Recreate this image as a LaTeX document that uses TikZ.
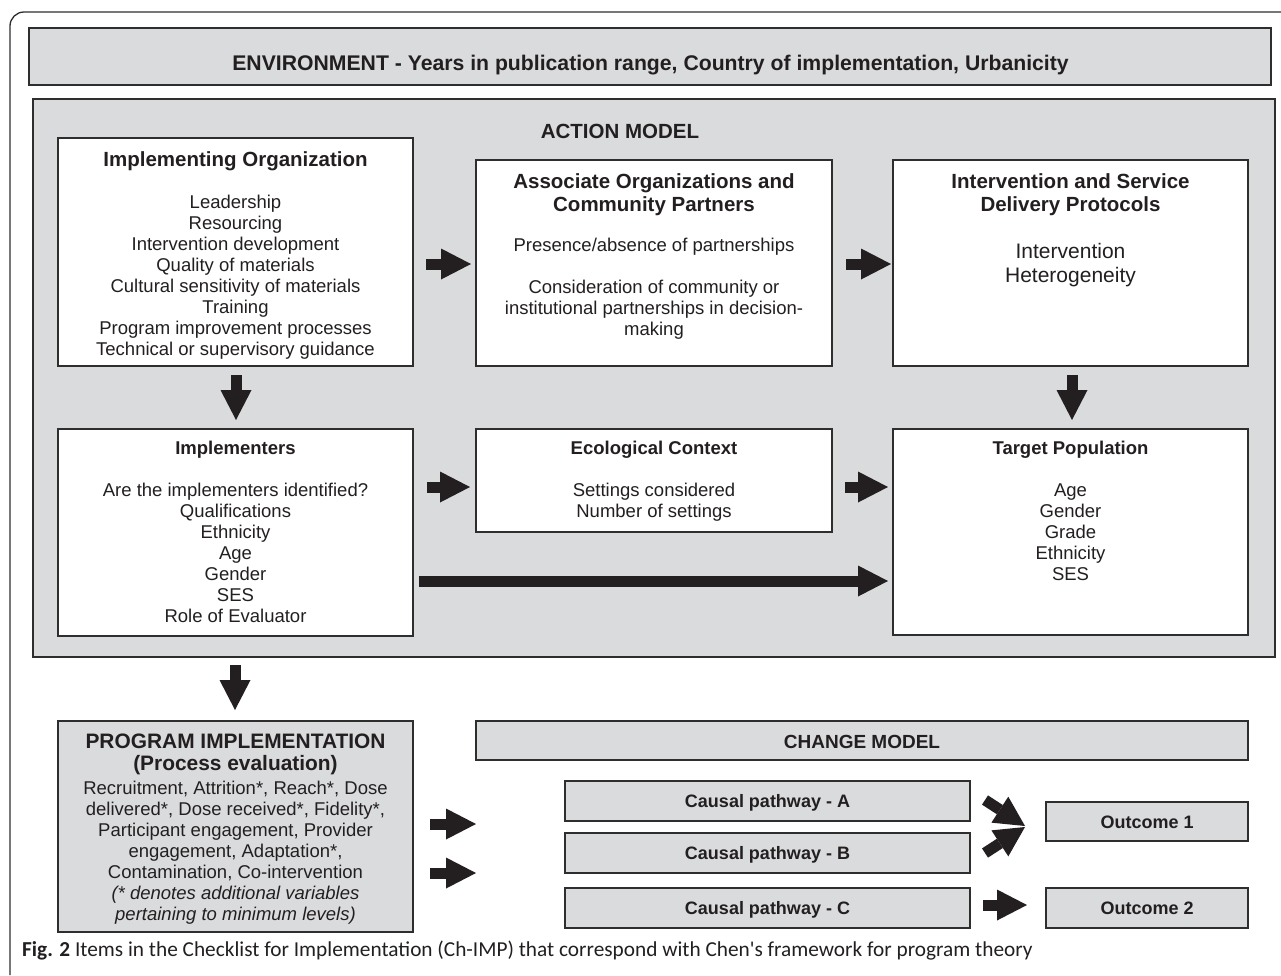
\documentclass[tikz,border=0pt]{standalone}
\usepackage{fontspec}
\setmainfont{Liberation Sans}
\newfontfamily\capfont{Carlito}
\usetikzlibrary{arrows.meta}
\definecolor{boxgray}{HTML}{DADBDD}
\definecolor{ink}{HTML}{231F20}
\definecolor{edge}{HTML}{2E2E2E}
\newcommand{\ml}[1]{\begin{tabular}[t]{@{}c@{}}#1\end{tabular}}
\begin{document}
\begin{tikzpicture}[x=1pt,y=-1pt,
  box/.style={draw=edge, line width=1.8pt, anchor=north west, outer sep=0pt, inner sep=0pt},
  graybox/.style={box, fill=boxgray},
  whitebox/.style={box, fill=white},
  txt/.style={anchor=base, align=center, inner sep=0pt, text=ink},
  body/.style={txt, font=\fontsize{18.5}{21}\selectfont},
  ttl/.style={txt, font=\fontsize{20.5}{23}\selectfont\bfseries},
  blk/.style={draw=ink, line width=11pt, -{Triangle[length=30pt,width=31pt,line width=0pt]}},
]
\useasboundingbox (0,0) rectangle (1281,975);
% outer frame
\draw[edge, line width=1.3pt] (10,975) -- (10,26) arc[start angle=180, end angle=270, radius=14] -- (1281,12);

% environment
\node[graybox, minimum width=1242, minimum height=57] (env) at (29,28) {};
\node[txt, font=\fontsize{21.2}{24}\selectfont\bfseries] (envt) at (650.5,70) {ENVIRONMENT - Years in publication range, Country of implementation, Urbanicity};

% action model
\node[graybox, minimum width=1242, minimum height=558] (am) at (33,99) {};
\node[ttl] (amt) at (620,138) {ACTION MODEL};

% top row
\node[whitebox, minimum width=355, minimum height=228] (io) at (58,138) {};
\node[ttl] at (235.5,166) {Implementing Organization};
\node[body] at (235.5,208.5) {\ml{Leadership\\Resourcing\\Intervention development\\Quality of materials\\Cultural sensitivity of materials\\Training\\Program improvement processes\\Technical or supervisory guidance}};

\node[whitebox, minimum width=356, minimum height=206] (ao) at (476,160) {};
\node[ttl] at (654,188) {\ml{Associate Organizations and\\Community Partners}};
\node[body] at (654,251.5) {\ml{Presence/absence of partnerships\\[21pt]Consideration of community or\\institutional partnerships in decision-\\making}};

\node[whitebox, minimum width=355, minimum height=206] (isd) at (893,160) {};
\node[ttl] at (1070.5,188) {\ml{Intervention and Service\\Delivery Protocols}};
\node[txt, font=\fontsize{21}{24}\selectfont] at (1070.5,258) {\ml{Intervention\\Heterogeneity}};

% second row
\node[whitebox, minimum width=355, minimum height=207] (imp) at (58,429) {};
\node[txt, font=\fontsize{18.5}{21}\selectfont\bfseries] at (235.5,454) {Implementers};
\node[body] at (235.5,496.5) {\ml{Are the implementers identified?\\Qualifications\\Ethnicity\\Age\\Gender\\SES\\Role of Evaluator}};

\node[whitebox, minimum width=356, minimum height=103] (eco) at (476,429) {};
\node[txt, font=\fontsize{18.5}{21}\selectfont\bfseries] at (654,454) {Ecological Context};
\node[body] at (654,496.5) {\ml{Settings considered\\Number of settings}};

\node[whitebox, minimum width=355, minimum height=206] (tp) at (893,429) {};
\node[txt, font=\fontsize{18.5}{21}\selectfont\bfseries] at (1070.5,454) {Target Population};
\node[body] at (1070.5,496.5) {\ml{Age\\Gender\\Grade\\Ethnicity\\SES}};

% program implementation
\node[graybox, minimum width=355, minimum height=211] (prog) at (58,721) {};
\node[txt, font=\fontsize{20.9}{22}\selectfont\bfseries] at (235.5,748) {\ml{PROGRAM IMPLEMENTATION\\(Process evaluation)}};
\node[body] at (235.5,794) {\ml{Recruitment, Attrition*, Reach*, Dose\\delivered*, Dose received*, Fidelity*,\\Participant engagement, Provider\\engagement, Adaptation*,\\Contamination, Co-intervention\\\itshape (* denotes additional variables\\\itshape pertaining to minimum levels)}};

% change model
\node[graybox, minimum width=772, minimum height=39] (chg) at (476,721) {};
\node[txt, font=\fontsize{19}{21}\selectfont\bfseries] at (862,748) {CHANGE MODEL};

\node[graybox, minimum width=405, minimum height=40] (ca) at (565,781) {};
\node[txt, font=\fontsize{18}{20}\selectfont\bfseries] at (767.5,807) {Causal pathway - A};
\node[graybox, minimum width=405, minimum height=40] (cb) at (565,833) {};
\node[txt, font=\fontsize{18}{20}\selectfont\bfseries] at (767.5,859) {Causal pathway - B};
\node[graybox, minimum width=405, minimum height=40] (cc) at (565,888) {};
\node[txt, font=\fontsize{18}{20}\selectfont\bfseries] at (767.5,914) {Causal pathway - C};

\node[graybox, minimum width=202, minimum height=39] (o1) at (1046,802) {};
\node[txt, font=\fontsize{18}{20}\selectfont\bfseries] at (1147,828) {Outcome 1};
\node[graybox, minimum width=202, minimum height=40] (o2) at (1046,888) {};
\node[txt, font=\fontsize{18}{20}\selectfont\bfseries] at (1147,914.5) {Outcome 2};

% arrows
\coordinate (a1s) at (426,264); \coordinate (a1e) at (471,264);
\coordinate (a2s) at (846,264); \coordinate (a2e) at (891,264);
\coordinate (d1s) at (236,375); \coordinate (d1e) at (236,420);
\coordinate (d2s) at (1072,375); \coordinate (d2e) at (1072,420);
\coordinate (b1s) at (427,487); \coordinate (b1e) at (470,487);
\coordinate (b2s) at (845,487); \coordinate (b2e) at (888,487);
\coordinate (ls) at (419,581); \coordinate (le) at (888,581);
\coordinate (d3s) at (235,665); \coordinate (d3e) at (235,710);
\coordinate (p1s) at (430,824); \coordinate (p1e) at (476,824);
\coordinate (p2s) at (430,873); \coordinate (p2e) at (476,873);
\coordinate (u1s) at (985,800); \coordinate (u1e) at (1025,826);
\coordinate (u2s) at (985,853); \coordinate (u2e) at (1025,827);
\coordinate (o2s) at (983,905); \coordinate (o2e) at (1027,905);

\draw[blk] (a1s) -- (a1e);
\draw[blk] (a2s) -- (a2e);
\draw[blk] (d1s) -- (d1e);
\draw[blk] (d2s) -- (d2e);
\draw[blk] (b1s) -- (b1e);
\draw[blk] (b2s) -- (b2e);
\draw[blk] (ls) -- (le);
\draw[blk] (d3s) -- (d3e);
\draw[blk] (p1s) -- (p1e);
\draw[blk] (p2s) -- (p2e);
\draw[blk] (u2s) -- (u2e);
\draw[blk] (u1s) -- (u1e);
\draw[blk] (o2s) -- (o2e);

% caption
\node[anchor=base west, inner sep=0pt, text=ink, font=\capfont\fontsize{21.3}{24}\selectfont] (cap) at (22,956) {{\bfseries Fig. 2} Items in the Checklist for Implementation (Ch-IMP) that correspond with Chen's framework for program theory};
\end{tikzpicture}
\end{document}
